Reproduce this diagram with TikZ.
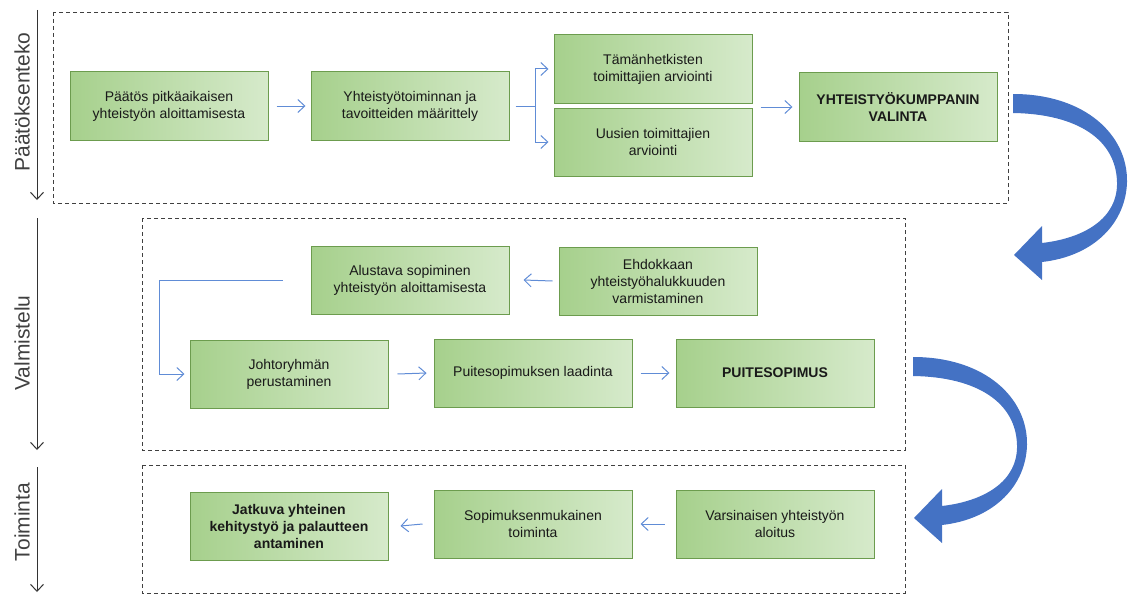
\documentclass[tikz,border=0pt]{standalone}
\usepackage{fontspec}
\setmainfont{Liberation Sans}
\usepackage{xcolor}
\usetikzlibrary{arrows.meta}

\definecolor{boxdark}{RGB}{166,208,140}
\definecolor{boxlight}{RGB}{214,234,203}
\definecolor{boxline}{RGB}{108,156,78}
\definecolor{flowblue}{RGB}{96,140,214}
\definecolor{bigblue}{RGB}{68,114,196}

\begin{document}
\begin{tikzpicture}[x=1pt, y=-1pt, >={Straight Barb[length=7pt,width=13pt]},
  stepbox/.style={draw=boxline, line width=1pt, left color=boxdark, right color=boxlight,
    minimum width=198pt, minimum height=68pt, align=center, text=black!90,
    font=\fontsize{14}{17}\selectfont},
  boldbox/.style={stepbox, font=\fontsize{14}{17}\selectfont\bfseries},
  flowline/.style={draw=flowblue, line width=1pt},
  flow/.style={->, flowline},
  frame/.style={draw=black!75, line width=0.8pt, dash pattern=on 4pt off 3pt},
  timeline/.style={-{Straight Barb[length=7pt,width=13pt]}, draw=black!80, line width=1pt},
  phaselabel/.style={rotate=90, text=black!75, font=\fontsize{21}{25}\selectfont}]
\useasboundingbox (0,0) rectangle (1130,594);

% phase frames
\draw[frame] (53,12) rectangle (1008,203);
\draw[frame] (142,218) rectangle (905,450);
\draw[frame] (142,465) rectangle (905,593);

% phase labels
\draw[timeline] (37,10) -- (37,200);
\draw[timeline] (37,218) -- (37,450);
\draw[timeline] (37,467) -- (37,592);
\node[phaselabel] (paatoksenteko) at (22,102) {Päätöksenteko};
\node[phaselabel] (valmistelu) at (22,343) {Valmistelu};
\node[phaselabel] (toiminta) at (22,522) {Toiminta};

% decision phase
\node[stepbox] (paatos) at (169,106) {Päätös pitkäaikaisen\\yhteistyön aloittamisesta};
\node[stepbox] (maarittely) at (410,106) {Yhteistyötoiminnan ja\\tavoitteiden määrittely};
\node[stepbox] (nykyiset) at (653,69) {Tämänhetkisten\\toimittajien arviointi};
\node[stepbox] (uudet) at (653,142) {Uusien toimittajien\\arviointi};
\node[boldbox] (valinta) at (898,107) {YHTEISTYÖKUMPPANIN\\VALINTA};

\draw[flow] ([xshift=8]paatos.east) -- ([xshift=-5]maarittely.west);
\coordinate (haara) at ([xshift=26]maarittely.east);
\draw[flowline] ([xshift=6]maarittely.east) -- (haara);
\draw[flow] (haara) |- ([xshift=-5]nykyiset.west);
\draw[flow] (haara) |- ([xshift=-5]uudet.west);
\draw[flow] ([xshift=8]nykyiset.east |- valinta.west) -- ([xshift=-6]valinta.west);

% preparation phase
\node[stepbox] (alustava) at (410,280) {Alustava sopiminen\\yhteistyön aloittamisesta};
\node[stepbox] (ehdokas) at (658,281) {Ehdokkaan\\yhteistyöhalukkuuden\\varmistaminen};
\node[stepbox] (johto) at (289,374) {Johtoryhmän\\perustaminen};
\node[stepbox] (laadinta) at (533,373) {Puitesopimuksen laadinta};
\node[boldbox] (puite) at (775,373) {PUITESOPIMUS};

\draw[flow] ([xshift=-6]ehdokas.west) -- ([xshift=14]alustava.east);
\draw[flow] ([xshift=-28]alustava.west) -- ++(-123,0) |- ([xshift=-5]johto.west);
\draw[flow] ([xshift=9]johto.east) -- ([xshift=-7]laadinta.west);
\draw[flow] ([xshift=8]laadinta.east) -- ([xshift=-6]puite.west);

% operation phase
\node[boldbox] (jatkuva) at (289,526) {Jatkuva yhteinen\\kehitystyö ja palautteen\\antaminen};
\node[stepbox] (sopimus) at (533,524) {Sopimuksenmukainen\\toiminta};
\node[stepbox] (aloitus) at (775,524) {Varsinaisen yhteistyön\\aloitus};

\draw[flow] ([xshift=-11]aloitus.west) -- ([xshift=8]sopimus.east);
\draw[flow] ([xshift=-11]sopimus.west) -- ([xshift=12]jatkuva.east);

% curved arrows between phases
\foreach \dx/\dy in {0/0, -100/263} {
  \fill[bigblue, shift={(\dx,\dy)}] (1013,94) .. controls (1085,94) and (1128,135) .. (1127,182)
    .. controls (1126,222) and (1095,256) .. (1042,262)
    -- (1042,280) -- (1014,255) -- (1042,226) -- (1042,243)
    .. controls (1085,238) and (1118,218) .. (1117,182)
    .. controls (1116,140) and (1078,114) .. (1013,113) -- cycle;
}
\end{tikzpicture}
\end{document}
